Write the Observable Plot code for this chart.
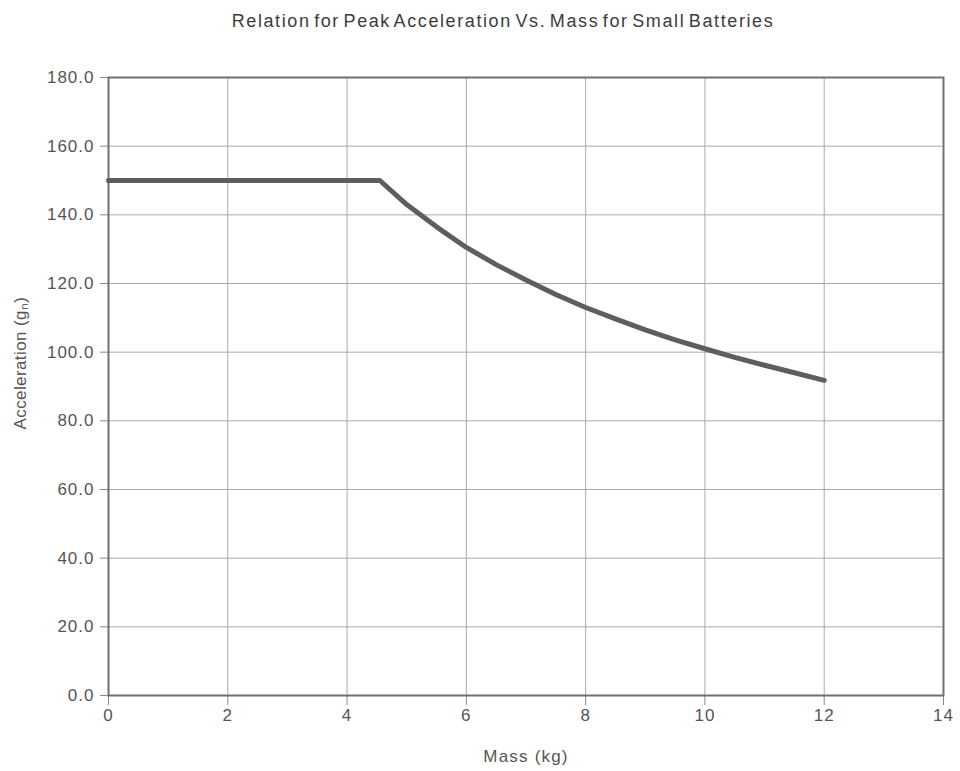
<!DOCTYPE html>
<html>
<head>
<meta charset="utf-8">
<script src="https://cdn.jsdelivr.net/npm/d3@7"></script>
<script src="https://cdn.jsdelivr.net/npm/@observablehq/plot@0.6"></script>
<style>
  html, body { margin: 0; padding: 0; background: #fff; }
  #title { height: 44px; width: 960px; box-sizing: border-box; padding-top: 11px; padding-left: 46px;
    text-align: center; font-family: "Liberation Sans", Arial, sans-serif; font-size: 18px; color: #3c3c3c;
    letter-spacing: 1.6px; word-spacing: -3px; }
  svg { display: block; }
  #chart svg g[aria-label$="tick label"] text { letter-spacing: 1px; }
  #chart svg g[aria-label="text"] text { letter-spacing: 1.2px; }
  #chart svg g.ylab text { letter-spacing: 0.4px; }
</style>
</head>
<body>
<div id="title">Relation for Peak Acceleration Vs. Mass for Small Batteries</div>
<div id="chart"></div>
<script>
const massKg = [0, 4.55, 5, 5.5, 6, 6.5, 7, 7.5, 8, 8.5, 9, 9.5, 10, 10.5, 11, 11.5, 12];
const accelG = [150, 150, 143, 136.5, 130.5, 125.5, 121, 116.8, 113, 109.7, 106.5, 103.6, 101, 98.5, 96.2, 94, 91.8];
const xTicks = [0, 2, 4, 6, 8, 10, 12, 14];
const yTicks = [0, 20, 40, 60, 80, 100, 120, 140, 160, 180];
const xLabel = "Mass (kg)";
const yLabel = "Acceleration (gₙ)";

const data = massKg.map((m, i) => ({mass: m, accel: accelG[i]}));

const plot = Plot.plot({
  width: 960,
  height: 727,
  marginTop: 33,
  marginBottom: 76,
  marginLeft: 108,
  marginRight: 17,
  style: {fontFamily: "Liberation Sans, Arial, sans-serif", fontSize: "17px", color: "#555", background: "transparent"},
  x: {domain: [0, 14]},
  y: {domain: [0, 180]},
  marks: [
    Plot.gridX(xTicks, {stroke: "#aaa", strokeOpacity: 1, strokeWidth: 1}),
    Plot.gridY(yTicks, {stroke: "#aaa", strokeOpacity: 1, strokeWidth: 1}),
    Plot.axisX(xTicks, {tickSize: 10, tickPadding: 3, stroke: "#888", fill: "#555", label: null, fontSize: 17}),
    Plot.axisY(yTicks, {tickSize: 8, tickPadding: 6, stroke: "#888", fill: "#555", label: null, tickFormat: d => d.toFixed(1), fontSize: 17}),
    Plot.frame({stroke: "#707070", strokeWidth: 2}),
    Plot.line(data, {x: "mass", y: "accel", stroke: "#5e5e5e", strokeWidth: 5, strokeLinejoin: "round"}),
    Plot.text([xLabel], {frameAnchor: "bottom", text: d => d, dy: 66, fill: "#555", fontSize: 17}),
    Plot.text([yLabel], {frameAnchor: "left", text: d => d, dx: -88, dy: 43, rotate: -90, fill: "#555", fontSize: 17, className: "ylab"})
  ]
});
document.getElementById("chart").appendChild(plot);
</script>
</body>
</html>
